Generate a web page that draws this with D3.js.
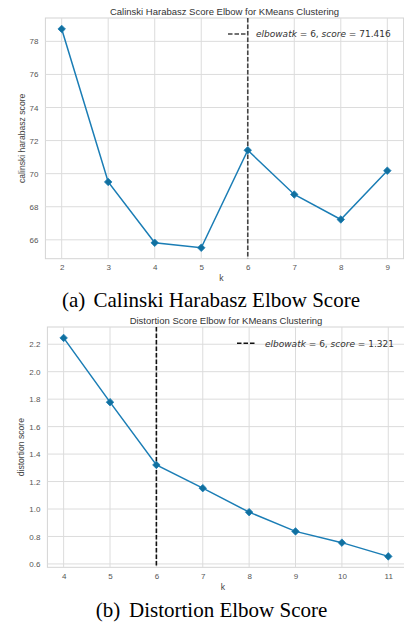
<!DOCTYPE html>
<html><head><meta charset="utf-8">
<script src="https://cdn.jsdelivr.net/npm/d3@7"></script>
<style>body{margin:0;background:#fff}svg{display:block}</style>
</head><body>
<svg id="c" width="404" height="624"></svg>
<script>
// Chart (a): Calinski Harabasz
const kA = [2, 3, 4, 5, 6, 7, 8, 9];
const scoreA = [78.75, 69.5, 65.82, 65.52, 71.416, 68.74, 67.23, 70.18];
const yTicksA = [66, 68, 70, 72, 74, 76, 78];
const elbowA = 6, elbowScoreA = "71.416";
// Chart (b): Distortion
const kB = [4, 5, 6, 7, 8, 9, 10, 11];
const scoreB = [2.246, 1.778, 1.321, 1.152, 0.977, 0.837, 0.755, 0.655];
const yTicksB = [0.6, 0.8, 1.0, 1.2, 1.4, 1.6, 1.8, 2.0, 2.2];
const elbowB = 6, elbowScoreB = "1.321";

const svg = d3.select("#c");
const lineColor = "#1a7db5";
const SANS = "Liberation Sans, Arial, sans-serif";
const SERIF = "Liberation Serif, Times New Roman, serif";

function panel(o) {
  const g = svg.append("g");
  const xmin = d3.min(o.k), xmax = d3.max(o.k);
  const ymin = d3.min(o.v), ymax = d3.max(o.v);
  const mx = (xmax - xmin) * 0.05, my = (ymax - ymin) * 0.05;
  const x = d3.scaleLinear().domain([xmin - mx, xmax + mx]).range([o.left, o.right]);
  const y = d3.scaleLinear().domain([ymin - my, ymax + my]).range([o.bottom, o.top]);

  g.append("rect").attr("x", o.left).attr("y", o.top)
    .attr("width", o.right - o.left).attr("height", o.bottom - o.top)
    .attr("fill", "#fff").attr("stroke", "#d4d4d4").attr("stroke-width", 1);

  g.selectAll(".gx").data(o.k).join("line")
    .attr("x1", d => x(d)).attr("x2", d => x(d))
    .attr("y1", o.top).attr("y2", o.bottom)
    .attr("stroke", "#dcdcdc").attr("stroke-width", 1);
  g.selectAll(".gy").data(o.yt).join("line")
    .attr("x1", o.left).attr("x2", o.right)
    .attr("y1", d => y(d)).attr("y2", d => y(d))
    .attr("stroke", "#dcdcdc").attr("stroke-width", 1);

  const xa = g.append("g").attr("transform", `translate(0,${o.bottom})`)
    .call(d3.axisBottom(x).tickValues(o.k).tickSize(0).tickPadding(6).tickFormat(d3.format("d")));
  const ya = g.append("g").attr("transform", `translate(${o.left},0)`)
    .call(d3.axisLeft(y).tickValues(o.yt).tickSize(0).tickPadding(o.ypad).tickFormat(o.yfmt));
  [xa, ya].forEach(a => {
    a.select(".domain").remove();
    a.selectAll("text").attr("fill", "#555").attr("font-family", SANS).attr("font-size", 8);
  });

  g.append("text").attr("x", o.titleX).attr("y", o.titleY).attr("text-anchor", "middle")
    .attr("font-family", SANS).attr("font-size", 9.5).attr("fill", "#333")
    .text(o.title);
  g.append("text").attr("x", (o.left + o.right) / 2 - 3).attr("y", o.bottom + 22.5).attr("text-anchor", "middle")
    .attr("font-family", SANS).attr("font-size", 8.6).attr("fill", "#444")
    .text("k");
  g.append("text").attr("transform", `translate(${o.ylabX},${(o.top + o.bottom) / 2}) rotate(-90)`)
    .attr("text-anchor", "middle")
    .attr("font-family", SANS).attr("font-size", 8.6).attr("fill", "#444")
    .text(o.ylab);

  g.append("line").attr("x1", x(o.elbow)).attr("x2", x(o.elbow))
    .attr("y1", o.top).attr("y2", o.bottom)
    .attr("stroke", o.elbowColor).attr("stroke-width", 1.6).attr("stroke-dasharray", "4.5,2");

  const data = o.k.map((d, i) => [d, o.v[i]]);
  g.append("path").datum(data)
    .attr("d", d3.line().x(d => x(d[0])).y(d => y(d[1])))
    .attr("fill", "none").attr("stroke", lineColor).attr("stroke-width", 1.5);
  g.selectAll(".m").data(data).join("path")
    .attr("transform", d => `translate(${x(d[0])},${y(d[1])})`)
    .attr("d", d3.symbol(d3.symbolDiamond2, 36))
    .attr("fill", "#11709f").attr("stroke", lineColor).attr("stroke-width", 0.8);

  g.append("line").attr("x1", o.legX).attr("x2", o.legX + 19).attr("y1", o.legY).attr("y2", o.legY)
    .attr("stroke", o.elbowColor).attr("stroke-width", 1.6).attr("stroke-dasharray", "4.5,2");
  const t = g.append("text").attr("x", o.legX + 28).attr("y", o.legY + 3.3)
    .attr("font-family", "DejaVu Sans, sans-serif").attr("font-size", 9).attr("fill", "#333");
  t.append("tspan").attr("font-style", "italic").text("elbowatk");
  t.append("tspan").text(" = 6, ");
  t.append("tspan").attr("font-style", "italic").text("score");
  t.append("tspan").text(" = " + o.elbowScore);

  g.append("text").attr("x", o.capX).attr("y", o.capY)
    .attr("font-family", SERIF).attr("font-size", 21).attr("fill", "#000")
    .text(o.capA);
  g.append("text").attr("x", o.capX2).attr("y", o.capY)
    .attr("font-family", SERIF).attr("font-size", 21).attr("fill", "#000")
    .text(o.capB);
}

panel({k: kA, v: scoreA, yt: yTicksA, yfmt: d3.format("d"),
  left: 45.4, right: 403.6, top: 18, bottom: 258.7, ypad: 7,
  title: "Calinski Harabasz Score Elbow for KMeans Clustering", titleX: 224.5, titleY: 14.5,
  ylab: "calinski harabasz score", ylabX: 25,
  elbow: elbowA, elbowScore: elbowScoreA, elbowColor: "#444",
  legX: 228, legY: 34,
  capA: "(a)", capB: "Calinski Harabasz Elbow Score", capX: 62, capX2: 93.5, capY: 306.5});

panel({k: kB, v: scoreB, yt: yTicksB, yfmt: d3.format(".1f"),
  left: 47.4, right: 404.5, top: 327, bottom: 567.3, ypad: 7,
  title: "Distortion Score Elbow for KMeans Clustering", titleX: 226, titleY: 324,
  ylab: "distortion score", ylabX: 24,
  elbow: elbowB, elbowScore: elbowScoreB, elbowColor: "#111",
  legX: 237, legY: 343.3,
  capA: "(b)", capB: "Distortion Elbow Score", capX: 95.7, capX2: 129, capY: 616.5});
</script>
</body></html>
